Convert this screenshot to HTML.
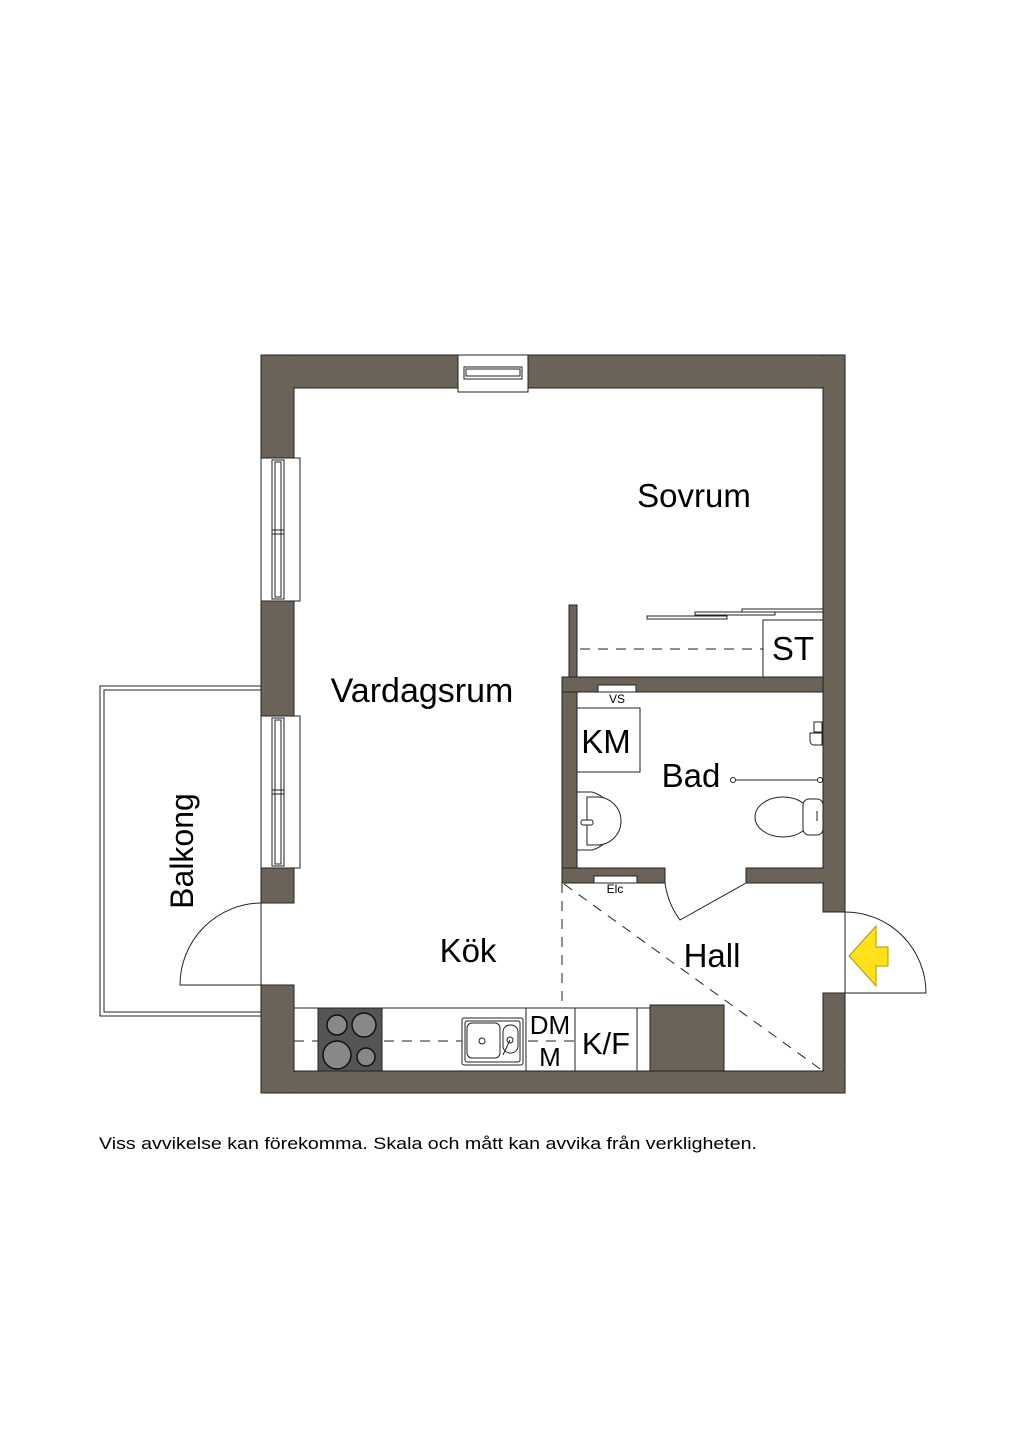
<!DOCTYPE html>
<html><head><meta charset="utf-8"><style>
html,body{margin:0;padding:0;background:#fff}
svg{display:block}
text{font-family:"Liberation Sans",Arial,sans-serif;fill:#000}
</style></head><body>
<svg width="1024" height="1448" viewBox="0 0 1024 1448" xmlns="http://www.w3.org/2000/svg">
<rect width="1024" height="1448" fill="#fff"/>
<g fill="#6b6357" stroke="#222" stroke-width="1">
<rect x="261" y="355" width="197" height="33"/>
<rect x="528" y="355" width="317" height="33"/>
<rect x="823" y="355" width="22" height="557"/>
<rect x="823" y="993" width="22" height="100"/>
<rect x="261" y="1071" width="584" height="22"/>
<rect x="261" y="355" width="33" height="103"/>
<rect x="261" y="601" width="33" height="115"/>
<rect x="261" y="868" width="33" height="35"/>
<rect x="261" y="985" width="33" height="108"/>
<rect x="562" y="677" width="15" height="206"/>
<rect x="562" y="677" width="261" height="15"/>
<rect x="569" y="605" width="8" height="72"/>
<rect x="562" y="868" width="103" height="15"/>
<rect x="746" y="868" width="99" height="15"/>
<rect x="650" y="1005" width="74" height="66"/>
</g>
<g fill="#6b6357">
<rect x="262" y="356" width="582" height="31"/>
<rect x="824" y="356" width="20" height="555"/>
<rect x="824" y="869" width="20" height="42"/>
<rect x="824" y="994" width="20" height="98"/>
<rect x="262" y="1072" width="582" height="20"/>
<rect x="563" y="678" width="259" height="13"/>
<rect x="747" y="869" width="97" height="13"/>
</g>
<g fill="#fff" stroke="#222" stroke-width="1">
<rect x="458" y="355" width="70" height="37"/>
<rect x="464" y="367" width="58" height="12"/>
<rect x="466" y="369" width="54" height="7"/>
</g>
<g fill="#fff" stroke="#222" stroke-width="1">
<rect x="261" y="458" width="39" height="143"/>
<rect x="272" y="460" width="12" height="139"/>
<rect x="275" y="462" width="6" height="135"/>
<line x1="272" y1="530" x2="284" y2="530"/><line x1="272" y1="534" x2="284" y2="534"/>
<rect x="261" y="716" width="39" height="152"/>
<rect x="272" y="718" width="12" height="148"/>
<rect x="275" y="720" width="6" height="144"/>
<line x1="272" y1="790" x2="284" y2="790"/><line x1="272" y1="794" x2="284" y2="794"/>
</g>
<g fill="none" stroke="#222" stroke-width="1">
<path d="M261 686 H100 V1016 H261"/>
<path d="M261 690 H104 V1012 H261"/>
<line x1="261" y1="903" x2="261" y2="985"/>
<path d="M261 903 A82 82 0 0 0 180 985 H261"/>
</g>
<g fill="#fff" stroke="#222" stroke-width="1">
<rect x="742" y="609" width="81" height="3"/>
<rect x="695" y="612" width="80" height="3"/>
<rect x="647" y="616" width="80" height="3"/>
<rect x="763" y="620" width="60" height="57"/>
</g>
<line x1="580" y1="649" x2="763" y2="649" stroke="#222" stroke-width="1" stroke-dasharray="10,8"/>
<g fill="#fff" stroke="#222" stroke-width="1">
<rect x="598" y="685" width="38" height="7"/>
<rect x="577" y="708" width="63" height="64"/>
<rect x="594" y="876" width="43" height="7"/>
<path d="M577 792 H592 A30 30 0 0 1 592 850 H577 Z"/>
<path d="M587 797 H597 A24 24 0 0 1 597 845 H587 Z"/>
<rect x="581" y="820" width="12" height="5" rx="2"/>
<ellipse cx="783" cy="817" rx="28" ry="20"/>
<rect x="803" y="799" width="20" height="36" rx="6"/>
<line x1="735" y1="780" x2="820" y2="780"/>
<circle cx="733" cy="780" r="2.5"/><circle cx="820" cy="780" r="2.5"/>
<rect x="814" y="722" width="8" height="10"/>
<path d="M810 733 h12 v12 h-8 a4 4 0 0 1 -4 -4z"/>
<line x1="817" y1="811" x2="817" y2="821"/>
</g>
<g fill="none" stroke="#222" stroke-width="1">
<path d="M665 883 A81 81 0 0 0 680 920 L746 883"/>
</g>
<path d="M845 912 A81 81 0 0 1 926 993 H845 Z" fill="#fff" stroke="#222" stroke-width="1"/>
<line x1="823" y1="912" x2="845" y2="912" stroke="#222"/>
<line x1="823" y1="993" x2="845" y2="993" stroke="#222"/>
<polygon points="849,956 876,926 876,947 888,947 888,966 876,966 876,986" fill="#ffe01a" stroke="#aa9a00" stroke-width="1"/>
<g stroke="#222" stroke-width="1" stroke-dasharray="10,8" fill="none">
<line x1="562" y1="883" x2="562" y2="1008"/>
<line x1="564" y1="884" x2="823" y2="1071"/>
<line x1="294" y1="1041" x2="575" y2="1041"/>
</g>
<g fill="none" stroke="#222" stroke-width="1">
<line x1="294" y1="1008" x2="650" y2="1008"/>
<line x1="637" y1="1008" x2="637" y2="1071"/>
<rect x="526" y="1008" width="49" height="63" fill="none"/>
<rect x="575" y="1008" width="62" height="63" fill="#fff"/>
</g>
<rect x="318" y="1008" width="64" height="63" fill="#555" stroke="#222"/>
<g stroke="#111" stroke-width="1.5" fill="#888">
<circle cx="337" cy="1025" r="10"/><circle cx="364" cy="1025" r="12"/>
<circle cx="337" cy="1055" r="14"/><circle cx="366" cy="1057" r="9"/>
</g>
<g fill="#fff" stroke="#222" stroke-width="1">
<rect x="462" y="1018" width="61" height="47" rx="2"/>
<rect x="465" y="1021" width="55" height="41" rx="2"/>
<rect x="467" y="1023" width="33" height="35" rx="5"/>
<rect x="503" y="1025" width="15" height="28" rx="7"/>
<circle cx="482" cy="1041" r="3"/><circle cx="510" cy="1040" r="3"/>
<line x1="510" y1="1040" x2="503" y2="1055"/>
</g>
<text x="694" y="507" font-size="33" text-anchor="middle">Sovrum</text>
<text x="422" y="702" font-size="34" text-anchor="middle">Vardagsrum</text>
<text x="691" y="787" font-size="33" text-anchor="middle">Bad</text>
<text x="468" y="962" font-size="33" text-anchor="middle">Kök</text>
<text x="712" y="967" font-size="33" text-anchor="middle">Hall</text>
<text x="793" y="660" font-size="33" text-anchor="middle">ST</text>
<text x="606" y="753" font-size="33" text-anchor="middle">KM</text>
<text x="606" y="1054" font-size="31" text-anchor="middle">K/F</text>
<text x="550" y="1034" font-size="26" text-anchor="middle">DM</text>
<text x="550" y="1066" font-size="26" text-anchor="middle">M</text>
<text x="617" y="703" font-size="12" text-anchor="middle">VS</text>
<text x="615" y="893" font-size="12" text-anchor="middle">Elc</text>
<text x="0" y="0" font-size="32" text-anchor="middle" transform="translate(193,851) rotate(-90)">Balkong</text>
<text x="99" y="1149" font-size="17" textLength="658" lengthAdjust="spacingAndGlyphs">Viss avvikelse kan förekomma. Skala och mått kan avvika från verkligheten.</text>
</svg>
</body></html>
